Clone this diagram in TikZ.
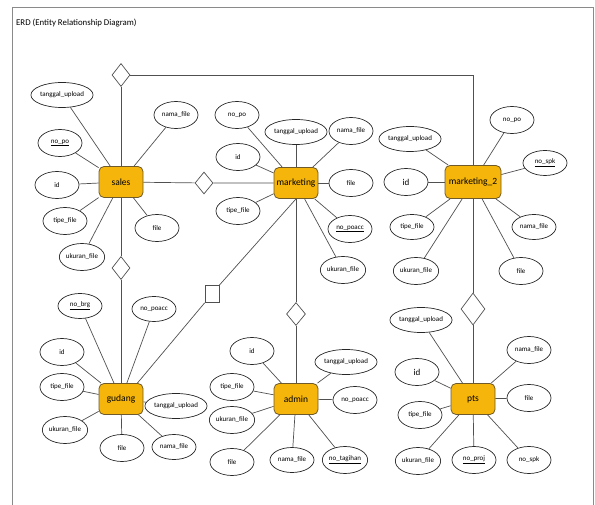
\documentclass[tikz,border=0pt]{standalone}
\usepackage{fontspec}
\setmainfont{Carlito}
\usetikzlibrary{shapes.geometric}
\definecolor{boxfill}{HTML}{F5B50A}
\definecolor{boxline}{HTML}{6E5A2A}
\definecolor{linecol}{HTML}{505050}
\definecolor{framecol}{HTML}{8A8A8A}
\begin{document}
\begin{tikzpicture}[x=1pt,y=-1pt,
  entity/.style={draw=boxline, fill=boxfill, rounded corners=5pt, line width=0.8pt,
    minimum width=44pt, minimum height=31pt, inner sep=1pt,
    font=\fontsize{9.5}{10}\selectfont},
  attr/.style={draw=black!85, ellipse, line width=0.7pt, minimum width=44pt,
    minimum height=27pt, inner sep=0pt, font=\fontsize{7}{8}\selectfont},
  wide/.style={minimum width=53pt, minimum height=25pt},
  bigtext/.style={font=\fontsize{9}{10}\selectfont},
  rel/.style={draw=linecol, diamond, line width=0.7pt, inner sep=0pt,
    minimum width=18pt, minimum height=23pt},
  relbox/.style={draw=linecol, rectangle, line width=0.7pt, inner sep=0pt,
    minimum width=14pt, minimum height=17pt},
  link/.style={draw=linecol, line width=0.7pt}
]
\useasboundingbox (0,0) rectangle (595,505);

% page frame and heading
\draw[framecol, line width=1pt] (12,505) -- (12,8) -- (593,8) -- (593,505);
\node[anchor=west, font=\fontsize{8.8}{10}\selectfont, inner sep=0pt] (title) at (16,23)
  {ERD (Entity Relationship Diagram)};

% entities
\node[entity] (sa) at (121,182) {sales};
\node[entity] (mk) at (296,183) {marketing};
\node[entity, minimum width=56pt, minimum height=33pt] (m2) at (473,182) {marketing\_2};
\node[entity] (gd) at (121,399) {gudang};
\node[entity] (ad) at (296,399) {admin};
\node[entity] (pt) at (473,399) {pts};

% relationships
\node[rel] (r1) at (121,75) {};
\node[rel, minimum height=22pt] (r2) at (204,183) {};
\node[rel] (r3) at (121,268) {};
\node[relbox] (r4) at (212,294) {};
\node[rel, minimum width=19pt] (r5) at (296,314) {};
\node[rel, minimum width=24pt, minimum height=32pt] (r6) at (473,309) {};
\coordinate (corner) at (473,75);

% sales attributes
\node[attr, wide] (sa1) at (62,95) {tanggal\_upload};
\node[attr] (sa2) at (176,115) {nama\_file};
\node[attr] (sa3) at (60,143) {\underline{no\_po}};
\node[attr] (sa4) at (57,185) {id};
\node[attr] (sa5) at (65,221) {tipe\_file};
\node[attr] (sa6) at (157,228) {file};
\node[attr] (sa7) at (82,257) {ukuran\_file};

% marketing attributes
\node[attr] (mk1) at (237,115) {no\_po};
\node[attr, wide] (mk2) at (296,132) {tanggal\_upload};
\node[attr] (mk3) at (351,131) {nama\_file};
\node[attr] (mk4) at (238,157) {id};
\node[attr] (mk5) at (351,183) {file};
\node[attr] (mk6) at (238,211) {tipe\_file};
\node[attr] (mk7) at (350,229) {\underline{no\_poacc}};
\node[attr] (mk8) at (343,270) {ukuran\_file};

% marketing_2 attributes
\node[attr] (m21) at (512,120) {no\_po};
\node[attr, wide] (m22) at (410,139) {tanggal\_upload};
\node[attr, minimum height=25pt] (m23) at (545,163) {\underline{no\_spk}};
\node[attr, bigtext] (m24) at (406,182) {id};
\node[attr, minimum height=25pt] (m25) at (412,227) {tipe\_file};
\node[attr, minimum height=25pt] (m26) at (534,227) {nama\_file};
\node[attr] (m27) at (416,271) {ukuran\_file};
\node[attr] (m28) at (521,271) {file};

% gudang attributes
\node[attr, minimum height=25pt] (gd1) at (80,306) {\underline{no\_brg}};
\node[attr, minimum height=25pt] (gd2) at (154,309) {no\_poacc};
\node[attr] (gd3) at (62,352) {id};
\node[attr] (gd4) at (62,387) {tipe\_file};
\node[attr] (gd5) at (65,430) {ukuran\_file};
\node[attr, wide] (gd6) at (176,406) {tanggal\_upload};
\node[attr] (gd7) at (122,448) {file};
\node[attr, minimum height=25pt] (gd8) at (174,447) {nama\_file};

% admin attributes
\node[attr] (ad1) at (252,351) {id};
\node[attr, wide] (ad2) at (346,362) {tanggal\_upload};
\node[attr] (ad3) at (232,387) {tipe\_file};
\node[attr] (ad4) at (355,400) {no\_poacc};
\node[attr] (ad5) at (232,420) {ukuran\_file};
\node[attr] (ad6) at (232,462) {file};
\node[attr, minimum height=25pt] (ad7) at (292,460) {nama\_file};
\node[attr] (ad8) at (345,460) {\underline{no\_tagihan}};

% pts attributes
\node[attr, wide] (pt1) at (421,320) {tanggal\_upload};
\node[attr] (pt2) at (529,350) {nama\_file};
\node[attr, bigtext] (pt3) at (417,372) {id};
\node[attr] (pt4) at (529,398) {file};
\node[attr] (pt5) at (420,415) {tipe\_file};
\node[attr] (pt6) at (418,461) {ukuran\_file};
\node[attr] (pt7) at (474,460) {\underline{no\_proj}};
\node[attr] (pt8) at (529,460) {no\_spk};

% attribute links
\foreach \e/\a in {sa/sa1,sa/sa2,sa/sa3,sa/sa4,sa/sa5,sa/sa6,sa/sa7,
                   mk/mk1,mk/mk2,mk/mk3,mk/mk4,mk/mk5,mk/mk6,mk/mk7,mk/mk8,
                   m2/m21,m2/m22,m2/m23,m2/m24,m2/m25,m2/m26,m2/m27,m2/m28,
                   gd/gd1,gd/gd2,gd/gd3,gd/gd4,gd/gd5,gd/gd6,gd/gd7,gd/gd8,
                   ad/ad1,ad/ad2,ad/ad3,ad/ad4,ad/ad5,ad/ad6,ad/ad7,ad/ad8,
                   pt/pt1,pt/pt2,pt/pt3,pt/pt4,pt/pt5,pt/pt6,pt/pt7,pt/pt8}
  \draw[link] (\e) -- (\a);

% relationship links
\draw[link] (sa) -- (r1);
\draw[link] (r1) -- (corner) -- (m2);
\draw[link] (sa) -- (r2) -- (mk);
\draw[link] (sa) -- (r3) -- (gd);
\draw[link] (mk.south) -- (r4.north east);
\draw[link] (r4.south west) -- ([xshift=-6pt]gd.north east);
\draw[link] (mk) -- (r5) -- (ad);
\draw[link] (m2) -- (r6) -- (pt);
\end{tikzpicture}
\end{document}
